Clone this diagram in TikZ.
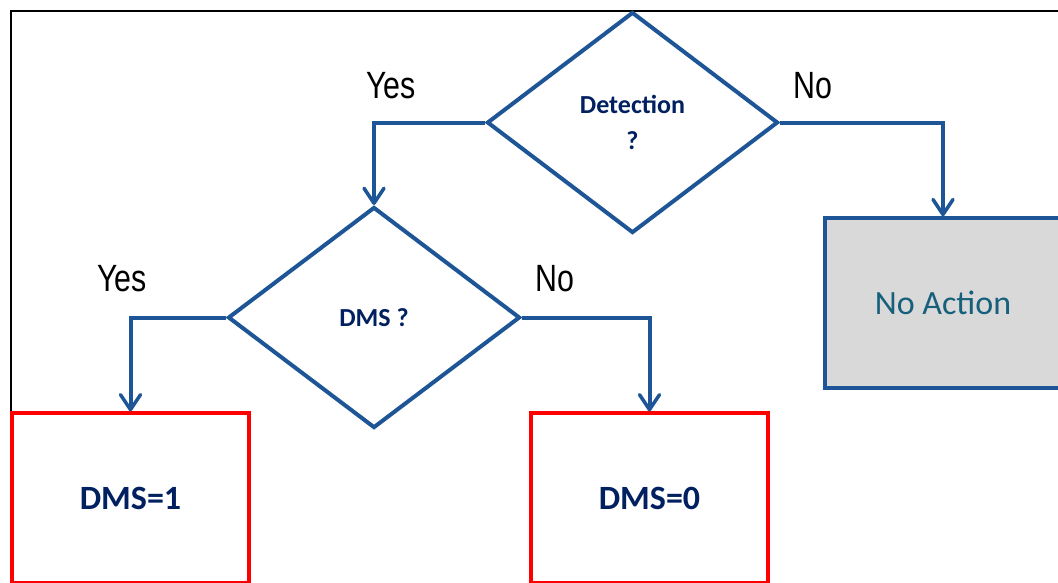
\documentclass[tikz,border=0pt]{standalone}
\usepackage{fontspec}
\setmainfont{Carlito}
\newfontfamily\arialfont[FakeStretch=0.8]{Liberation Sans}
\usetikzlibrary{shapes.geometric,arrows.meta}
\definecolor{lineblue}{RGB}{30,85,150}
\definecolor{navy}{RGB}{0,32,96}
\definecolor{tealtext}{RGB}{22,96,124}
\definecolor{boxgray}{RGB}{217,217,217}
\begin{document}
\begin{tikzpicture}[x=1pt,y=-1pt,
  decision/.style={diamond,draw=lineblue,line width=4pt,inner sep=0pt,
    text=navy,font=\fontsize{26}{36}\selectfont\bfseries,align=center},
  redbox/.style={rectangle,draw=red,line width=3.2pt,fill=white,
    minimum width=237pt,minimum height=170pt,inner sep=0pt,
    text=navy,font=\fontsize{34}{40}\selectfont\bfseries},
  graybox/.style={rectangle,draw=lineblue,line width=3.5pt,fill=boxgray,
    minimum width=236pt,minimum height=170pt,inner sep=0pt,
    text=tealtext,font=\fontsize{34}{40}\selectfont},
  conn/.style={draw=lineblue,line width=4pt,
    -{Straight Barb[length=15pt,width=20pt,line width=3.5pt,round]}},
  lbl/.style={font=\arialfont\fontsize{38}{44}\selectfont,text=black,inner sep=0pt}]
\useasboundingbox (0,0) rectangle (1058,582);
\clip (0,0) rectangle (1058,582);
\fill[white] (0,0) rectangle (1058,582);
\draw[black,line width=2pt] (10.5,600) -- (10.5,10.5) -- (1070,10.5);
\node[decision,minimum width=291pt,minimum height=221pt] (det) at (632.5,122.5) {Detection\\?};
\node[decision,minimum width=292pt,minimum height=221pt] (dms) at (374,317.5) {DMS ?};
\node[graybox] (noact) at (943,303) {No Action};
\node[redbox] (dms1) at (130.5,498) {DMS=1};
\node[redbox] (dms0) at (649.5,498) {DMS=0};
\draw[conn] (det.west) -| (dms.north);
\draw[conn] (det.east) -| (noact.north);
\draw[conn] (dms.west) -| (dms1.north);
\draw[conn] (dms.east) -| (dms0.north);
\node[lbl] (yes1) at (391,86) {Yes};
\node[lbl] (no1) at (813,86) {No};
\node[lbl] (yes2) at (122,279) {Yes};
\node[lbl] (no2) at (555,279) {No};
\end{tikzpicture}
\end{document}
